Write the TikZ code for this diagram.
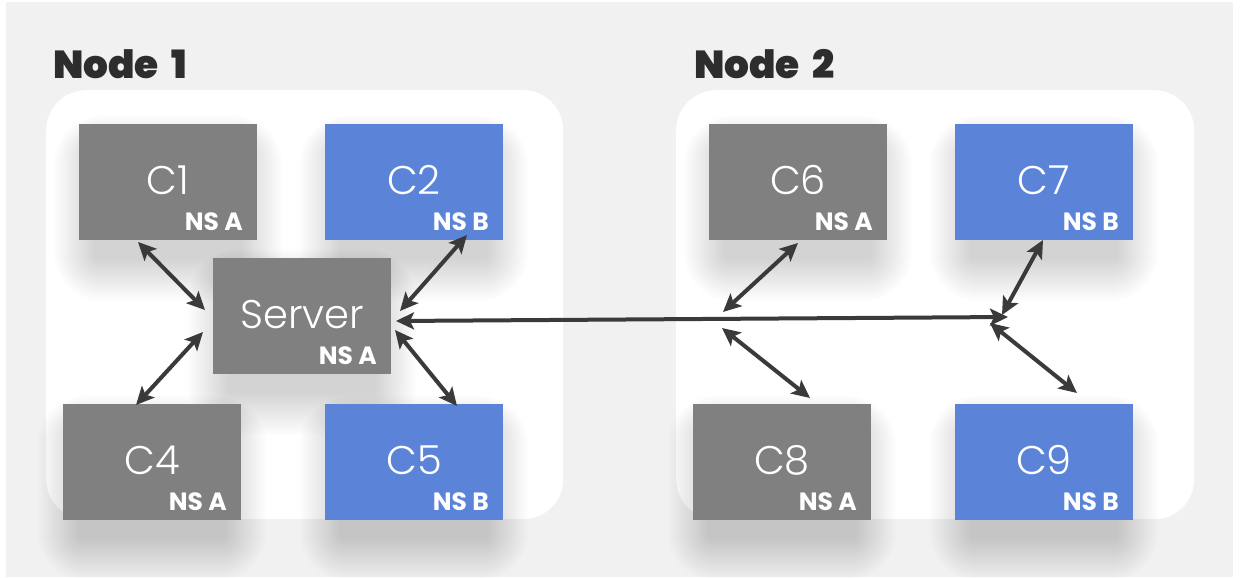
\documentclass[tikz,border=0pt]{standalone}
\usepackage{fontspec}
\usetikzlibrary{arrows.meta}
\newfontfamily\lightfont{Poppins Light}
\newfontfamily\heavyfont{Poppins Black}
\newfontfamily\tagfont{Poppins Bold}
\definecolor{canvas}{HTML}{F1F1F1}
\definecolor{nsa}{HTML}{808080}
\definecolor{nsb}{HTML}{5B84D9}
\definecolor{linkc}{HTML}{3A3A3A}
\definecolor{titlec}{HTML}{2D2D2D}
\tikzset{
  panel/.style={fill=white, rounded corners=40pt, anchor=north west, inner sep=0pt},
  box/.style={rectangle, anchor=north west, inner sep=0pt,
    minimum width=178pt, minimum height=116pt},
  ctext/.style={text=white, font=\lightfont\fontsize{40}{40}\selectfont, inner sep=0pt, anchor=base},
  nstext/.style={text=white, font=\tagfont\fontsize{25}{25}\selectfont, inner sep=0pt, anchor=base east},
  title/.style={text=titlec, font=\heavyfont\fontsize{39}{39}\selectfont, inner sep=0pt, anchor=base west},
  link/.style={draw=linkc, line width=4pt,
    {Stealth[length=18pt,width=17pt,inset=4pt]}-{Stealth[length=18pt,width=17pt,inset=4pt]}},
  softshade/.style={fill=black, fill opacity=0.0036}
}
% soft drop shadow under a container whose top left corner is (#1,#2)
\newcommand\cshadow[2]{%
  \foreach \k in {1,...,44}{%
    \pgfmathsetmacro\rc{1.1*\k+2}%
    \fill[softshade, rounded corners=\rc pt]
      (#1+16-\k*0.95, #2+26-\k*0.8) rectangle (#1+162+\k*0.95, #2+134+\k*1.0);
  }%
}
% a container box: name, left, top, fill, label, namespace
\newcommand\cbox[6]{%
  \node[box, fill=#4] (#1) at (#2,#3) {};
  \node[ctext] (#1-t) at (#2+89,#3+70) {#5};
  \node[nstext] (#1-ns) at (#2+164,#3+106) {#6};
}
\begin{document}
\begin{tikzpicture}[x=1pt,y=-1pt]
\useasboundingbox (0,0) rectangle (1240,578);
\fill[white] (0,0) rectangle (1240,578);
\fill[canvas] (6,2) rectangle (1233,577);

% host panels
\node[panel, minimum width=517pt, minimum height=429pt] (host1) at (46,90) {};
\node[panel, minimum width=518pt, minimum height=429pt] (host2) at (676,90) {};
\node[title] (host1-t) at (53,79) {Node\hspace{13pt}1};
\node[title] (host2-t) at (694,78) {Node\hspace{13pt}2};

% shadows first, so that no shadow falls on a container
\cshadow{79}{124}
\cshadow{325}{124}
\cshadow{213}{258}
\cshadow{63}{404}
\cshadow{325}{404}
\cshadow{709}{124}
\cshadow{955}{124}
\cshadow{693}{404}
\cshadow{955}{404}

% containers on Node 1
\cbox{c1}{79}{124}{nsa}{C1}{NS A}
\cbox{c2}{325}{124}{nsb}{C2}{NS B}
\cbox{srv}{213}{258}{nsa}{Server}{NS A}
\cbox{c4}{63}{404}{nsa}{C4}{NS A}
\cbox{c5}{325}{404}{nsb}{C5}{NS B}

% containers on Node 2
\cbox{c6}{709}{124}{nsa}{C6}{NS A}
\cbox{c7}{955}{124}{nsb}{C7}{NS B}
\cbox{c8}{693}{404}{nsa}{C8}{NS A}
\cbox{c9}{955}{404}{nsb}{C9}{NS B}

% connector end points
\coordinate (c1-e) at (138,242);
\coordinate (s-c1) at (205,310);
\coordinate (c2-e) at (467,235);
\coordinate (s-c2) at (400,311);
\coordinate (c4-e) at (136,405);
\coordinate (s-c4) at (203,332);
\coordinate (c5-e) at (457,406);
\coordinate (s-c5) at (395,330);
\coordinate (s-out) at (396,321);
\coordinate (hub) at (1008,317);
\coordinate (c6-e) at (798,243);
\coordinate (j6) at (723,312);
\coordinate (c8-e) at (810,398);
\coordinate (j8) at (722,328);
\coordinate (c7-e) at (1043,240);
\coordinate (j7) at (1002,315);
\coordinate (c9-e) at (1077,393);
\coordinate (j9) at (990,323);

% connectors
\draw[link] (c1-e) -- (s-c1);
\draw[link] (c2-e) -- (s-c2);
\draw[link] (c4-e) -- (s-c4);
\draw[link] (c5-e) -- (s-c5);
\draw[link] (s-out) -- (hub);
\draw[link] (c6-e) -- (j6);
\draw[link] (c8-e) -- (j8);
\draw[link] (c7-e) -- (j7);
\draw[link] (c9-e) -- (j9);
\end{tikzpicture}
\end{document}
